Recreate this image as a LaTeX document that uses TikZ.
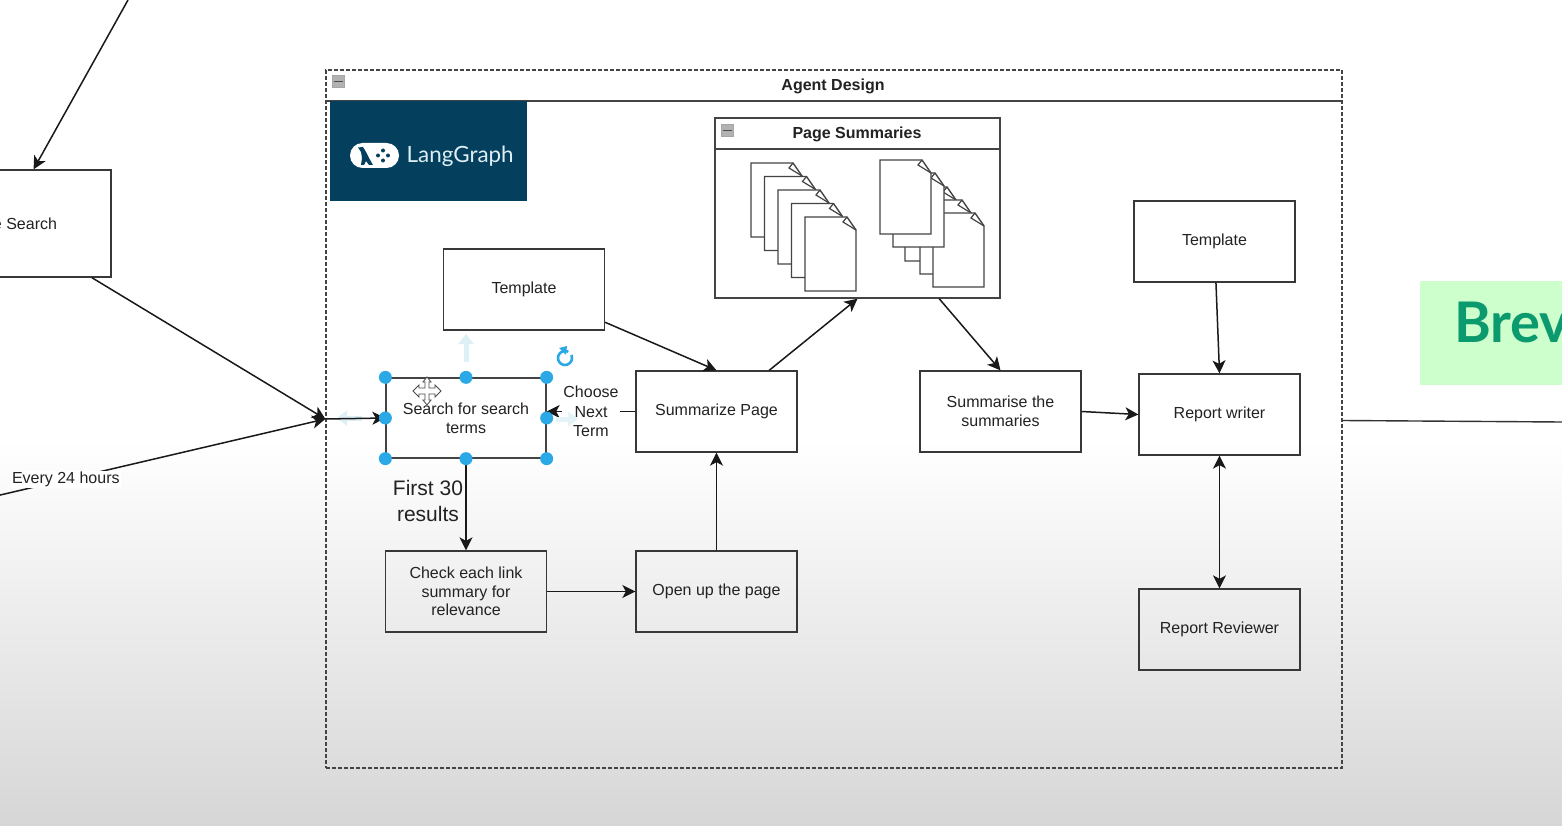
\documentclass[tikz,border=0pt]{standalone}
\usepackage{fontspec}
\setmainfont{Liberation Sans}
\newfontfamily\logofont{Lato}
\usetikzlibrary{arrows.meta,calc}
\definecolor{ink}{HTML}{222222}
\definecolor{handle}{HTML}{2BA9E6}
\definecolor{ghost}{HTML}{DDF0F6}
\definecolor{lgblue}{HTML}{053F5E}
\definecolor{lgtext}{HTML}{DCEFF3}
\definecolor{brevbg}{HTML}{CCFFCC}
\definecolor{brevtx}{HTML}{0B9A6D}
\definecolor{lane}{HTML}{444444}
\tikzset{
  every node/.style={font=\fontsize{16}{18.7}\selectfont, text=ink},
  boxnode/.style={draw=ink!90, line width=1.3pt, minimum width=161pt, minimum height=81pt, align=center, inner sep=0pt},
  selbox/.style={boxnode, draw=lane, minimum width=160pt, minimum height=80pt},
  lanebox/.style={draw=lane, line width=1.4pt, inner sep=0pt},
  conn/.style={draw=black!90, line width=1.5pt, -{Stealth[length=13pt,width=13pt,inset=3.5pt]}},
  plainconn/.style={draw=black!80, line width=1.4pt},
  biconn/.style={conn, {Stealth[length=13pt,width=13pt,inset=3.5pt]}-{Stealth[length=13pt,width=13pt,inset=3.5pt]}},
  lbl/.style={fill=white, inner sep=2pt, align=center},
  handledot/.style={circle, fill=handle, draw=none, minimum size=13pt, inner sep=0pt},
  pagesheet/.style={draw=lane, fill=white, line width=1.4pt, line join=miter},
  ghostarrow/.style={draw=ghost, line width=5pt, -{Triangle[length=10pt,width=15pt]}},
  collapse/.style={fill=black!30, draw=black!35, line width=.5pt, minimum size=12pt, inner sep=0pt}
}
\newcommand{\docpage}[2]{%
  \path[pagesheet] (#1,#2) -- ++(42,0) -- ++(9,13) -- ++(0,61) -- ++(-51,0) -- cycle;
  \draw[lane, line width=1.2pt] (#1+42,#2) -- ++(-4,5) -- ++(13,8);
}
\begin{document}
\begin{tikzpicture}[x=1pt,y=-1pt]
\useasboundingbox (0,0) rectangle (1562,826);
\clip (0,0) rectangle (1562,826);
\fill[white] (0,0) rectangle (1562,826);
\shade[top color=white, bottom color=black!16] (0,440) rectangle (1562,826);

% Brevo logo fragment
\fill[brevbg] (1420,281) rectangle (1562,385);
\node[anchor=base west, inner sep=0pt, text=brevtx, font=\logofont\bfseries\fontsize{56}{60}\selectfont] (brev) at (1454,342) {Brev};

% Agent Design lane
\node[draw=lane, dash pattern=on 4pt off 2pt, line width=1.3pt, minimum width=1016pt, minimum height=698pt, inner sep=0pt] (agent) at (834,419) {};
\draw[lane, line width=1.3pt] (326,101) -- (1342,101);
\node[font=\fontsize{16}{19}\selectfont\bfseries] (agenttitle) at (833,86) {Agent Design};
\node[collapse] (agentcollapse) at (338,81.5) {};
\draw[black!70, line width=1.4pt] (333.5,81.5) -- (342.5,81.5);

% LangGraph logo
\fill[lgblue] (330,101) rectangle (527,201);
\fill[white, rounded corners=12.5pt] (350,143) rectangle (399,168);
\fill[lgblue] (358,147.5) -- (363,147) -- (366,152) -- (369,158) -- (373,165) -- (369,165) -- (366,161) -- (364,165) -- (361,165) -- (362,158) -- (361,152) -- cycle;
\foreach \a/\b in {383/150.5,378/155.5,388/155.5,383/160.5}{\fill[lgblue] (\a,\b) circle (2pt);}
\node[anchor=base west, inner sep=0pt, text=lgtext, font=\logofont\fontsize{22.4}{25}\selectfont] (lglabel) at (406.5,163) {LangGraph};

% Page Summaries lane
\node[lanebox, fill=white, minimum width=285pt, minimum height=180pt] (summaries) at (857.5,208) {};
\draw[lane, line width=1.4pt] (715,149) -- (1000,149);
\node[font=\fontsize{16}{19}\selectfont\bfseries] (sumtitle) at (857,134) {Page Summaries};
\node[collapse] (sumcollapse) at (727,130.5) {};
\draw[black!70, line width=1.4pt] (722.5,130.5) -- (731.5,130.5);
\docpage{751}{163}
\docpage{764.5}{176.5}
\docpage{778}{190}
\docpage{791.5}{203.5}
\docpage{805}{217}
\docpage{905}{187}
\docpage{920}{200}
\docpage{933}{213}
\docpage{893}{173}
\docpage{880}{160}

% Boxes
\node[boxnode, minimum width=172pt, minimum height=107pt] (search) at (25,223.5) {e Search};
\node[boxnode] (template) at (524,289.5) {\raisebox{-1pt}{Template}};
\node[boxnode] (summarize) at (716.5,411.5) {Summarize Page};
\node[boxnode] (check) at (466,591.5) {Check each link\\summary for\\relevance};
\node[boxnode] (open) at (716.5,591.5) {\raisebox{-1.5pt}{Open up the page}};
\node[boxnode] (sumsum) at (1000.5,411.5) {Summarise the\\summaries};
\node[boxnode] (writer) at (1219.5,414.5) {Report writer};
\node[boxnode] (template2) at (1214.5,241.5) {Template};
\node[boxnode] (reviewer) at (1219.5,629.5) {\raisebox{-1pt}{Report Reviewer}};

% Selected shape
\draw[ghostarrow] (466,362) -- (466,334);
\draw[ghostarrow] (362,418) -- (337,418);
\node[selbox] (termsearch) at (466,418) {Search for search\\terms};

% Connectors
\coordinate (topfree) at (128,0);
\coordinate (botfree) at (-4,496);
\coordinate (rightfree) at (1562,422);
\draw[conn] (topfree) -- (search.81.5);
\draw[conn] (search.-39) -- (agent.west);
\draw[conn] (botfree) -- node[lbl, pos=.212, inner sep=1pt] (every) {Every 24 hours} (agent.west);
\draw[conn] (agent.west) -- (termsearch.west);
\draw[conn] (template.-22.5) -- (summarize.north);
\draw[conn] (summarize.38.7) -- (summaries.south);
\draw[conn] (summaries.-48.9) -- (sumsum.north);
\draw[conn] (sumsum.east) -- (writer.west);
\draw[conn] (template2.-88) -- (writer.north);
\draw[biconn] (writer.south) -- (reviewer.north);
\draw[plainconn] (agent.east |- writer.east) ++(0,6) coordinate (agentout) -- (rightfree);
\draw[conn] (summarize.west) -- node[lbl, font=\fontsize{16}{19.5}\selectfont, pos=.5, inner sep=1pt] (choose) {Choose\\Next\\Term} (summarize.west -| termsearch.east);
\draw[ghostarrow, draw=ghost!80] (556,419) -- (578,419);
\draw[conn] (termsearch.south) -- (check.north);
\draw[conn] (check.east) -- (open.west);
\draw[conn] (open.north) -- (summarize.south);
\node[align=center, font=\fontsize{21}{26.5}\selectfont] (first) at (428,501) {First 30\\results};

% Selection handles
\foreach \p/\n in {north west/a,north/b,north east/c,west/d,east/e,south west/f,south/g,south east/h}{
  \node[handledot] (h\n) at (termsearch.\p) {};
}
% Rotation handle
\draw[handle, line width=2.6pt] (565,358) circle (7pt);
\fill[white] (565,358) -- (571,347) -- (577,352) -- cycle;
\fill[handle] (559,348) -- (567,346) -- (566,355) -- cycle;
% Move cursor
\draw[black!70, fill=white, line width=.8pt] (427,377) -- (431,382) -- (429,382) -- (429,388) -- (435,388) -- (435,385) -- (441,391) -- (435,397) -- (435,394) -- (429,394) -- (429,400) -- (431,400) -- (427,405) -- (423,400) -- (425,400) -- (425,394) -- (419,394) -- (419,397) -- (413,391) -- (419,385) -- (419,388) -- (425,388) -- (425,382) -- (423,382) -- cycle;
\end{tikzpicture}
\end{document}
